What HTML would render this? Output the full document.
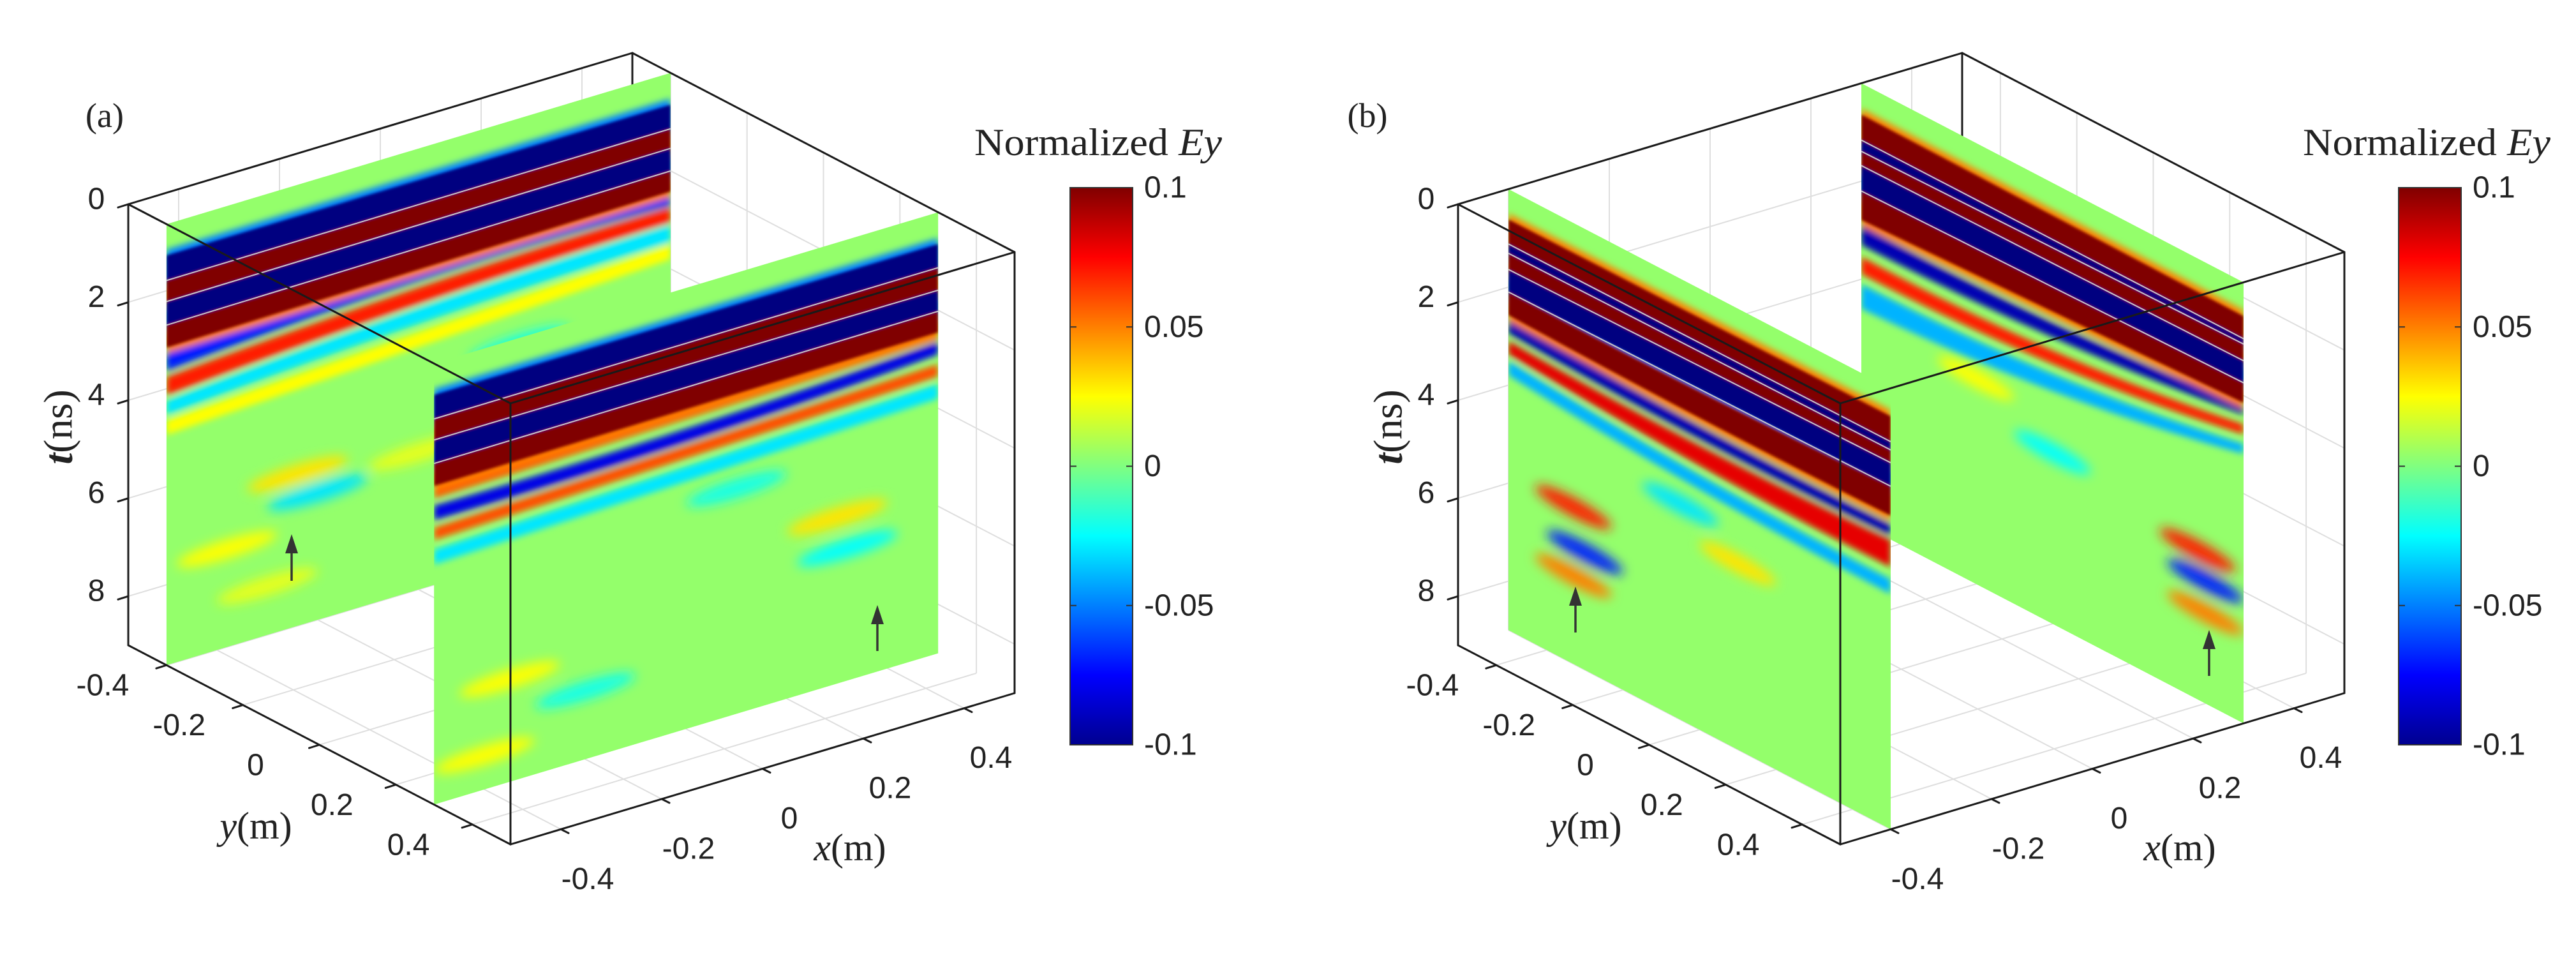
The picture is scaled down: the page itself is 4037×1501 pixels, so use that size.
<!DOCTYPE html>
<html><head><meta charset="utf-8">
<style>
html,body{margin:0;padding:0;background:#fff;}
svg{display:block;}
text{font-family:"Liberation Sans",sans-serif;fill:#222;}
.serif{font-family:"Liberation Serif",serif;}
</style></head>
<body>
<svg id="fig" xmlns="http://www.w3.org/2000/svg" width="4037" height="1501" viewBox="0 0 4037 1501">
<defs>
<filter id="blurS" x="-5%" y="-5%" width="110%" height="110%"><feGaussianBlur stdDeviation="2"/></filter>
<filter id="blurM" x="-10%" y="-10%" width="120%" height="120%"><feGaussianBlur stdDeviation="5"/></filter>
<filter id="blurL" x="-10%" y="-10%" width="120%" height="120%"><feGaussianBlur stdDeviation="9"/></filter>
<linearGradient id="jetGrad" x1="0" y1="1" x2="0" y2="0">
<stop offset="0" stop-color="#00008f"/><stop offset="0.125" stop-color="#0000ff"/>
<stop offset="0.375" stop-color="#00ffff"/><stop offset="0.5" stop-color="#80ff80"/>
<stop offset="0.625" stop-color="#ffff00"/><stop offset="0.875" stop-color="#ff0000"/>
<stop offset="1" stop-color="#800000"/></linearGradient>
</defs>
<g id="panelA"></g>
<g id="panelB"></g>
</svg>
<script>
// ---- data ----
const tickT=[0,2,4,6,8];
const tickTLabels=['0','2','4','6','8'];
const tickXY=[-0.4,-0.2,0,0.2,0.4];
const tickXYLabels=['-0.4','-0.2','0','0.2','0.4'];
const cbTicks=[0.1,0.05,0,-0.05,-0.1];
const cbLabels=['0.1','0.05','0','-0.05','-0.1'];
const tMax=9;

// panel (a) slice y=-0.4
const a1Vals=[-0.1,0.1,-0.1,0.1,-0.07,0.07,-0.03,0.025];
const a1StartL=[0.64,1.15,1.58,2.06,2.62,3.12,3.6,4.0];
const a1EndL=[1.15,1.58,2.06,2.52,3.0,3.5,3.9,4.3];
const a1StartR=[0.65,1.14,1.54,2.0,2.45,2.75,3.1,3.5];
const a1EndR=[1.14,1.54,2.0,2.42,2.7,3.05,3.45,3.8];
const a1Bend=[0,0,0,0,-0.15,-0.1,-0.1,0];
const a1BlobU=[0.26,0.3,0.12,0.5,0.2,0.7];
const a1BlobT=[5.9,6.4,7.0,6.2,8.0,4.6];
const a1BlobV=[0.03,-0.03,0.025,0.02,0.02,-0.02];
// panel (a) slice y=0.3
const a2Vals=[-0.1,0.1,-0.1,0.1,0.06,-0.08,0.06,-0.03];
const a2StartL=[0.64,1.13,1.56,2.04,2.5,2.9,3.35,3.8];
const a2EndL=[1.13,1.56,2.04,2.5,2.75,3.2,3.6,4.1];
const a2StartR=[0.65,1.13,1.59,2.02,2.42,2.65,3.1,3.5];
const a2EndR=[1.13,1.59,2.02,2.45,2.6,2.9,3.35,3.8];
const a2Bend=[0,0,0,0,0,0.1,0,0];
const a2BlobU=[0.8,0.82,0.15,0.3,0.1,0.6];
const a2BlobT=[5.6,6.3,6.9,7.6,8.3,4.4];
const a2BlobV=[0.03,-0.025,0.025,-0.02,0.025,-0.02];
// panel (b) slice x=-0.4
const b1Vals=[0.1,-0.1,0.1,-0.1,0.1,-0.09,0.08,-0.04];
const b1StartL=[0.62,1.12,1.31,1.64,2.1,2.63,3.1,3.5];
const b1EndL=[1.12,1.31,1.64,2.1,2.57,2.94,3.37,3.8];
const b1StartR=[0.57,1.09,1.26,1.52,2.0,2.78,3.1,3.9];
const b1EndR=[1.09,1.26,1.52,2.0,2.6,3.0,3.65,4.2];
const b1Bend=[0,0,0,0,0.05,0.1,0.1,0.1];
const b1BlobU=[0.17,0.2,0.17,0.45,0.6];
const b1BlobT=[5.8,6.6,7.2,4.6,5.2];
const b1BlobV=[0.07,-0.07,0.05,-0.03,0.03];
// panel (b) slice x=0.3
const b2Vals=[0.1,-0.1,0.1,-0.1,0.1,-0.09,0.07,-0.04];
const b2StartL=[0.64,1.16,1.39,1.68,2.2,2.9,3.54,4.1];
const b2EndL=[1.16,1.39,1.68,2.2,2.79,3.3,3.89,4.6];
const b2StartR=[0.69,1.15,1.26,1.6,2.05,2.5,2.9,3.3];
const b2EndR=[1.15,1.26,1.6,2.05,2.46,2.7,3.1,3.5];
const b2Bend=[0,0,0,0,0,0.15,0.2,0.2];
const b2BlobU=[0.88,0.9,0.9,0.3,0.5];
const b2BlobT=[5.95,6.5,7.15,4.8,5.5];
const b2BlobV=[0.07,-0.07,0.05,0.025,-0.025];

// ---- helpers ----
const NS='http://www.w3.org/2000/svg';
function mk(tag,attrs,parent){const e=document.createElementNS(NS,tag);for(const k in attrs)e.setAttribute(k,attrs[k]);if(parent)parent.appendChild(e);return e;}
function jet(v){let s=(v+0.1)/0.2;s=Math.max(0,Math.min(1,s));const c=x=>Math.round(255*Math.max(0,Math.min(1,1.5-Math.abs(4*s-x))));return `rgb(${c(3)},${c(2)},${c(1)})`;}
function proj(ox,x,y,t){return [ox+201+(y+0.5)*599+(x+0.5)*790, 320+(y+0.5)*312-(x+0.5)*237+t*(691/tMax)];}
function pts(a){return a.map(p=>p[0].toFixed(1)+','+p[1].toFixed(1)).join(' ');}

function drawSlice(g,ox,kind,c,vals,sL,eL,sR,eR,bend,bu,bt,bv,name,id){
  const P=(u,t)=> kind==='y'? proj(ox,-0.5+u,c,t) : proj(ox,c,-0.5+u,t);
  const sg=mk('g',{},g);
  
  
  const outline=[P(0,0),P(1,0),P(1,tMax),P(0,tMax)];
  const cp=mk('clipPath',{id:id},sg);
  mk('polygon',{points:pts(outline)},cp);
  const bg=mk('polygon',{points:pts(outline),fill:jet(0.004)},sg);
  
  
  const soft=mk('g',{'clip-path':`url(#${id})`},sg);
  const softIn=mk('g',{filter:'url(#blurL)'},soft);
  for(let i=0;i<bu.length;i++){
    const poly=[];
    for(let k=0;k<24;k++){const a=k/24*2*Math.PI;poly.push(P(bu[i]+0.1*Math.cos(a),bt[i]+0.2*Math.sin(a)));}
    const e=mk('polygon',{points:pts(poly),fill:jet(bv[i])},softIn);
    
    
  }
  const N=20;
  const tf=(L,R,b,u)=>L+(R-L)*u+b*4*u*(1-u);
  const bandPoly=(i,pad)=>{const top=[],bot=[];
    for(let k=0;k<=N;k++){const u=k/N;top.push(P(u,tf(sL[i],sR[i],bend[i],u)-pad));bot.push(P(u,tf(eL[i],eR[i],bend[i],u)+pad));}
    return top.concat(bot.reverse());};
  const mid=mk('g',{'clip-path':`url(#${id})`},sg);
  const midIn=mk('g',{filter:'url(#blurM)'},mid);
  // soft secondary bands and halos of strong bands
  for(let i=vals.length-1;i>=0;i--){
    const strong=Math.abs(vals[i])>=0.1;
    const e=mk('polygon',{points:pts(bandPoly(i,strong?0.12:0)),fill:jet(strong?vals[i]*0.5:vals[i])},midIn);
    
    
  }
  const bands=mk('g',{'clip-path':`url(#${id})`},sg);
  const bIn=mk('g',{filter:'url(#blurS)'},bands);
  for(let i=vals.length-1;i>=0;i--){
    if(Math.abs(vals[i])<0.1) continue;
    const e=mk('polygon',{points:pts(bandPoly(i,0)),fill:jet(vals[i])},bIn);
    
    
  }
  for(let i=0;i<vals.length-1;i++){
    if(Math.abs(vals[i])>=0.1&&Math.abs(vals[i+1])>=0.1){
      const line=[];
      for(let k=0;k<=N;k++){const u=k/N;line.push(P(u,tf(eL[i],eR[i],bend[i],u)));}
      const e=mk('polyline',{points:pts(line),fill:'none',stroke:'#c8c8c8','stroke-width':2},bands);
      
      
    }
  }
}

function arrow(g,x,y1,y2){
  const a=mk('g',{},g);
  
  
  mk('line',{x1:x,y1:y2,x2:x,y2:y1+22,stroke:'#333','stroke-width':3.5},a);
  mk('polygon',{points:`${x},${y1} ${x-10},${y1+30} ${x+10},${y1+30}`,fill:'#333'},a);
}

function panel(g,ox,label,slices,arrows,cbx){
  const grid=mk('g',{stroke:'#dedede','stroke-width':2,fill:'none'},g);
  
  
  const L=(x,y,t,x2,y2,t2)=>{const p=proj(ox,x,y,t),q=proj(ox,x2,y2,t2);mk('line',{x1:p[0],y1:p[1],x2:q[0],y2:q[1]},grid);};
  tickXY.forEach(v=>{L(v,-0.5,0,v,-0.5,tMax);L(0.5,v,0,0.5,v,tMax);L(v,-0.5,tMax,v,0.5,tMax);L(-0.5,v,tMax,0.5,v,tMax);});
  tickT.forEach(t=>{L(-0.5,-0.5,t,0.5,-0.5,t);L(0.5,-0.5,t,0.5,0.5,t);});
  const edges=mk('g',{stroke:'#1a1a1a','stroke-width':3,fill:'none','stroke-linecap':'round'},g);
  
  
  const E=(par,a,b)=>{const p=proj(ox,...a),q=proj(ox,...b);mk('line',{x1:p[0],y1:p[1],x2:q[0],y2:q[1]},par);};
  E(edges,[0.5,-0.5,0],[0.5,-0.5,tMax]);
  slices.forEach(s=>drawSlice(g,ox,...s));
  const fe=mk('g',{stroke:'#1a1a1a','stroke-width':3,fill:'none','stroke-linecap':'round'},g);
  
  
  E(fe,[-0.5,-0.5,0],[0.5,-0.5,0]);E(fe,[0.5,-0.5,0],[0.5,0.5,0]);
  E(fe,[-0.5,-0.5,0],[-0.5,0.5,0]);E(fe,[-0.5,0.5,0],[0.5,0.5,0]);
  E(fe,[-0.5,-0.5,0],[-0.5,-0.5,tMax]);E(fe,[-0.5,0.5,0],[-0.5,0.5,tMax]);E(fe,[0.5,0.5,0],[0.5,0.5,tMax]);
  E(fe,[-0.5,-0.5,tMax],[-0.5,0.5,tMax]);E(fe,[-0.5,0.5,tMax],[0.5,0.5,tMax]);
  tickT.forEach((t,i)=>{const p=proj(ox,-0.5,-0.5,t);
    mk('line',{x1:p[0],y1:p[1],x2:p[0]-16,y2:p[1]+5},fe);
    const tx=mk('text',{x:p[0]-50,y:p[1]-8,'font-size':48,'text-anchor':'middle','dominant-baseline':'central'},g);
    tx.textContent=tickTLabels[i];
    
    });
  tickXY.forEach((v,i)=>{
    const p=proj(ox,-0.5,v,tMax);
    mk('line',{x1:p[0],y1:p[1],x2:p[0]-16,y2:p[1]+5},fe);
    const ty=mk('text',{x:p[0]-100,y:p[1]+32,'font-size':48,'text-anchor':'middle','dominant-baseline':'central'},g);
    ty.textContent=tickXYLabels[i];
    
    
    const q=proj(ox,v,0.5,tMax);
    mk('line',{x1:q[0],y1:q[1],x2:q[0]+12,y2:q[1]+6},fe);
    const tx=mk('text',{x:q[0]+42,y:q[1]+78,'font-size':48,'text-anchor':'middle','dominant-baseline':'central'},g);
    tx.textContent=tickXYLabels[i];
    
    
  });
  const tl=mk('text',{x:ox+91,y:669,'font-size':64,'text-anchor':'middle','dominant-baseline':'central',transform:`rotate(-90 ${ox+91} 669)`,class:'serif'},g);
  tl.innerHTML='<tspan font-style="italic" font-weight="bold">t</tspan>(ns)';
  
  
  const yl=mk('text',{x:ox+401,y:1294,'font-size':60,'text-anchor':'middle','dominant-baseline':'central',class:'serif'},g);
  yl.innerHTML='<tspan font-style="italic">y</tspan>(m)';
  
  
  const xl=mk('text',{x:ox+1332,y:1328,'font-size':60,'text-anchor':'middle','dominant-baseline':'central',class:'serif'},g);
  xl.innerHTML='<tspan font-style="italic">x</tspan>(m)';
  
  
  const pl=mk('text',{x:ox+(label==='(a)'?164:59),y:181,'font-size':54,'text-anchor':'middle','dominant-baseline':'central',class:'serif'},g);
  pl.textContent=label;
  
  
  arrows.forEach(a=>arrow(g,...a));
  const cb=mk('g',{},g);
  
  
  const cbTop=294,cbBot=1167,cbW=98;
  const cbY=v=>cbTop+(0.1-v)/0.2*(cbBot-cbTop);
  mk('rect',{x:cbx,y:cbTop,width:cbW,height:cbBot-cbTop,fill:'url(#jetGrad)',stroke:'#333','stroke-width':2},cb);
  cbTicks.forEach((v,i)=>{const y=cbY(v);
    mk('line',{x1:cbx+cbW-10,y1:y,x2:cbx+cbW,y2:y,stroke:'#333','stroke-width':2},cb);
    mk('line',{x1:cbx,y1:y,x2:cbx+10,y2:y,stroke:'#333','stroke-width':2},cb);
    const t=mk('text',{x:cbx+cbW+18,y:y,'font-size':48,'dominant-baseline':'central'},cb);
    t.textContent=cbLabels[i];
    
    });
  const ct=mk('text',{x:cbx+44,y:223,'font-size':60,'text-anchor':'middle','dominant-baseline':'central',class:'serif',textLength:388,lengthAdjust:'spacingAndGlyphs'},cb);
  ct.innerHTML='Normalized <tspan font-style="italic">Ey</tspan>';
  
  
}

panel(document.getElementById('panelA'),0,'(a)',
  [['y',-0.4,a1Vals,a1StartL,a1EndL,a1StartR,a1EndR,a1Bend,a1BlobU,a1BlobT,a1BlobV,'slice-y-neg04','clipA1'],
   ['y',0.3,a2Vals,a2StartL,a2EndL,a2StartR,a2EndR,a2Bend,a2BlobU,a2BlobT,a2BlobV,'slice-y-03','clipA2']],
  [[457,837,910],[1375,948,1020]],1677);
panel(document.getElementById('panelB'),2084,'(b)',
  [['x',0.3,b2Vals,b2StartL,b2EndL,b2StartR,b2EndR,b2Bend,b2BlobU,b2BlobT,b2BlobV,'slice-x-03','clipB2'],
   ['x',-0.4,b1Vals,b1StartL,b1EndL,b1StartR,b1EndR,b1Bend,b1BlobU,b1BlobT,b1BlobV,'slice-x-neg04','clipB1']],
  [[2469,919,991],[3462,987,1059]],3759);
</script>
</body></html>
